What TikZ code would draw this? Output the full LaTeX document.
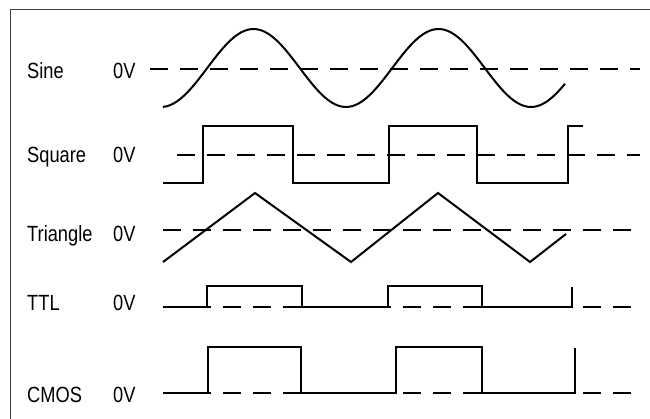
\documentclass[tikz,border=0pt]{standalone}
\usepackage{fontspec}
\usepackage{tikz}
\usetikzlibrary{backgrounds}
\newfontfamily\signalfont[FakeStretch=0.83]{Liberation Sans}
\tikzstyle{wave}=[draw=black, line width=2pt, line join=miter]
\tikzstyle{zeroline}=[draw=black, line width=1.6pt, dash pattern=on 18pt off 12pt]
\tikzstyle{panel}=[draw=black!75, line width=0.9pt]
\tikzstyle{signame}=[anchor=base west, inner sep=0pt, font=\signalfont\fontsize{22}{26}\selectfont]
\pgfdeclarelayer{edgelayer}
\pgfdeclarelayer{nodelayer}
\pgfsetlayers{edgelayer,main,nodelayer}

\begin{document}
\begin{tikzpicture}[x=1pt, y=-1pt]
            \useasboundingbox (0,0) rectangle (650,419);
            \begin{pgfonlayer}{nodelayer}
                \node [style=signame] (sine) at (27, 79) {Sine};
                \node [style=signame] (sinezero) at (113, 79) {0V};
                \node [style=signame] (square) at (27, 163) {Square};
                \node [style=signame] (squarezero) at (113, 163) {0V};
                \node [style=signame] (triangle) at (27, 242) {Triangle};
                \node [style=signame] (trianglezero) at (113, 242) {0V};
                \node [style=signame] (ttl) at (27, 311) {TTL};
                \node [style=signame] (ttlzero) at (113, 311) {0V};
                \node [style=signame] (cmos) at (27, 402) {CMOS};
                \node [style=signame] (cmoszero) at (113, 402) {0V};
            \end{pgfonlayer}
            \begin{pgfonlayer}{edgelayer}
                \draw [style=panel] (10, 419) -- (10, 9) -- (650, 9);

                \draw [style=zeroline] (150, 69) -- (640, 69);
                \draw [style=zeroline] (177, 155) -- (640, 155);
                \draw [style=zeroline] (163, 230) -- (640, 230);
                \draw [style=zeroline] (163, 307) -- (640, 307);
                \draw [style=zeroline] (163, 393) -- (640, 393);
            \end{pgfonlayer}

            % signals
            \draw [style=wave] plot [domain=163:565, samples=120, smooth] (\x, {68-39*sin(1.94595*(\x-207.25))});
            \draw [style=wave] (163, 183) -- (203, 183) -- (203, 126) -- (293, 126) -- (293, 183) -- (389, 183) -- (389, 126) -- (477, 126) -- (477, 183) -- (568, 183) -- (568, 126) -- (583, 126);
            \draw [style=wave] (163, 262) -- (255, 193) -- (351, 262) -- (438, 193) -- (530, 262) -- (566, 234);
            \draw [style=wave] (163, 307) -- (207, 307) -- (207, 286) -- (302, 286) -- (302, 307) -- (388, 307) -- (388, 286) -- (482, 286) -- (482, 307) -- (572, 307) -- (572, 287);
            \draw [style=wave] (163, 393) -- (208, 393) -- (208, 347) -- (301, 347) -- (301, 393) -- (396, 393) -- (396, 347) -- (482, 347) -- (482, 393) -- (575, 393) -- (575, 348);
        \end{tikzpicture}
\end{document}
